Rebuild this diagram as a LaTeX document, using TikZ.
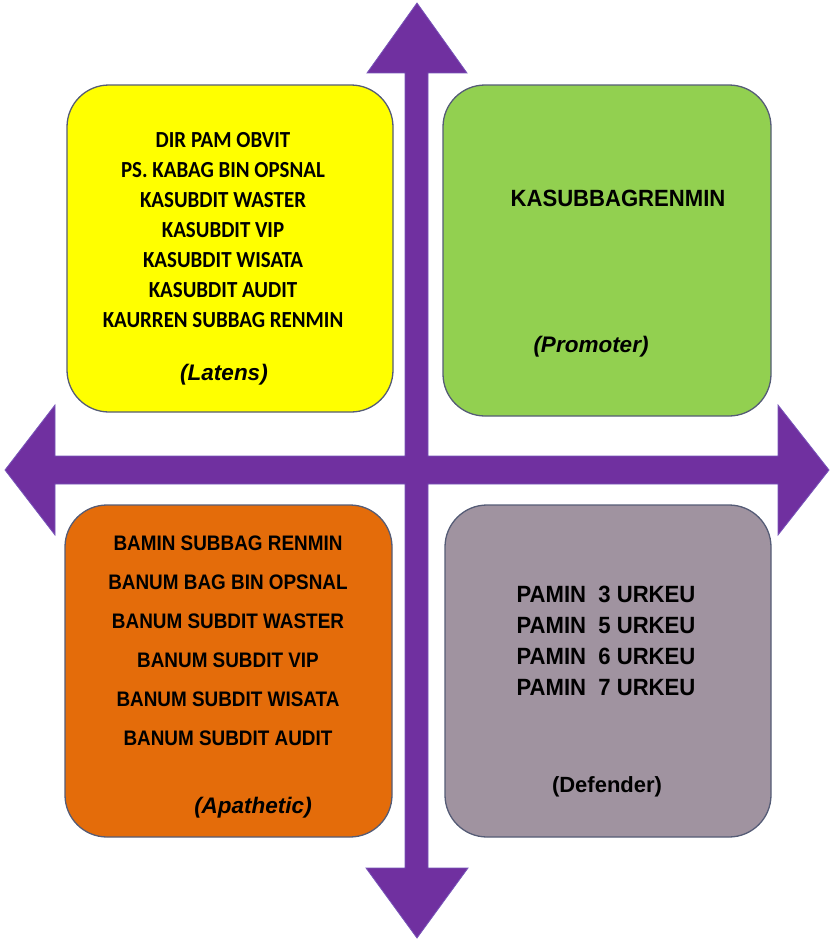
\documentclass[tikz,border=0pt]{standalone}
\usepackage{fontspec}
\setmainfont{Liberation Sans}
\newfontfamily\calnarrow[FakeStretch=0.91]{Carlito}
\newfontfamily\arinarrow[FakeStretch=0.90]{Liberation Sans}
\newfontfamily\arisemi[FakeStretch=0.94]{Liberation Sans}
\usetikzlibrary{positioning, calc}

\definecolor{latcol}{HTML}{FFFF00}
\definecolor{procol}{HTML}{92D050}
\definecolor{apacol}{HTML}{E46C0A}
\definecolor{defcol}{RGB}{160,147,160}
\definecolor{edgecol}{RGB}{85,92,118}
\definecolor{axiscol}{HTML}{7030A0}
\definecolor{axisedge}{RGB}{120,85,185}

\begin{document}
\begin{tikzpicture}[
  x=1pt, y=-1pt,
  quad/.style  = {draw=edgecol, line width=1.3pt, rounded corners=42pt, inner sep=0pt},
  names/.style = {align=center, inner sep=0pt, font=\bfseries},
  role/.style  = {inner sep=0pt, font=\bfseries\itshape\fontsize{22.5}{27}\selectfont},
]
  \useasboundingbox (0,0) rectangle (831,942);

  % Quadrant boxes
  \node[quad, fill=latcol, minimum width=326, minimum height=327] (lat) at (230,248.5) {};
  \node[quad, fill=procol, minimum width=328, minimum height=331] (pro) at (607,250.5) {};
  \node[quad, fill=apacol, minimum width=327, minimum height=332] (apa) at (228.5,671) {};
  \node[quad, fill=defcol, minimum width=326, minimum height=332] (def) at (608,671) {};

  % Cross of arrows
  \coordinate (ctr) at (416.5,470);
  \filldraw[fill=axiscol, draw=axisedge, line width=0.8pt, line join=miter]
    (417,3) -- (467,73) -- (428,73) -- (428,456) -- (778,456) -- (778,405)
    -- (829,470) -- (778,535) -- (778,484) -- (428,484) -- (428,868)
    -- (468,868) -- (417,938) -- (366,868) -- (405,868) -- (405,484)
    -- (55,484) -- (55,535) -- (5,470) -- (55,405) -- (55,456)
    -- (405,456) -- (405,73) -- (367,73) -- cycle;

  % Latens
  \node[names, font=\calnarrow\bfseries\fontsize{23}{30}\selectfont] (latlist) at (223,230.5)
    {DIR PAM OBVIT\\PS. KABAG BIN OPSNAL\\KASUBDIT WASTER\\KASUBDIT VIP\\%
     KASUBDIT WISATA\\KASUBDIT AUDIT\\KAURREN SUBBAG RENMIN};
  \node[role] (latrole) at (224,375) {(Latens)};

  % Promoter
  \node[names, font=\arisemi\bfseries\fontsize{23.5}{27}\selectfont] (prolist) at (618,198) {KASUBBAGRENMIN};
  \node[role] (prorole) at (591,347) {(Promoter)};

  % Apathetic
  \node[names, font=\arinarrow\bfseries\fontsize{21}{39}\selectfont] (apalist) at (228,640.5)
    {BAMIN SUBBAG RENMIN\\BANUM BAG BIN OPSNAL\\BANUM SUBDIT WASTER\\%
     BANUM SUBDIT VIP\\BANUM SUBDIT WISATA\\BANUM SUBDIT AUDIT};
  \node[role] (aparole) at (253,808) {(Apathetic)};

  % Defender
  \node[names, font=\arisemi\bfseries\fontsize{23.5}{31}\selectfont] (deflist) at (606,641)
    {PAMIN\ \ 3 URKEU\\PAMIN\ \ 5 URKEU\\PAMIN\ \ 6 URKEU\\PAMIN\ \ 7 URKEU};
  \node[names, font=\bfseries\fontsize{22}{27}\selectfont] (defrole) at (607,787) {(Defender)};
\end{tikzpicture}
\end{document}
